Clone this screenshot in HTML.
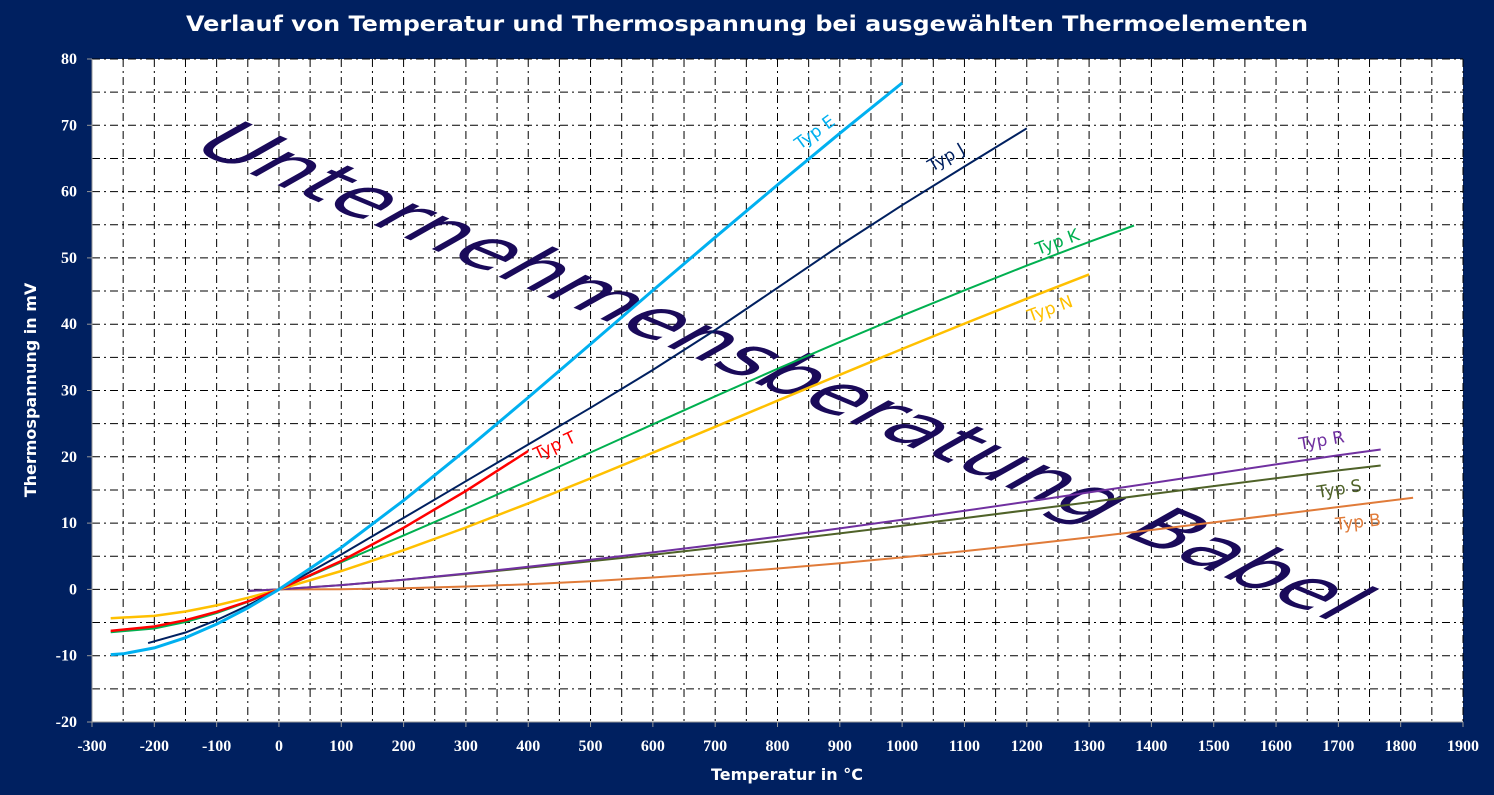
<!DOCTYPE html><html><head><style>body{margin:0;background:#002060}</style></head><body>
<svg id="s" width="1494" height="790" xmlns="http://www.w3.org/2000/svg" font-family="Liberation Sans, sans-serif">
<rect width="1494" height="790" fill="#002060"/>
<text x="747" y="31" fill="#fff" font-size="21" font-weight="bold" text-anchor="middle" font-family="DejaVu Sans, sans-serif" textLength="1122" lengthAdjust="spacingAndGlyphs">Verlauf von Temperatur und Thermospannung bei ausgewählten Thermoelementen</text>
<rect x="92" y="59" width="1371" height="663" fill="#fff"/>
<g id="grid"></g>
<text x="787" y="780" fill="#fff" font-size="16" font-weight="bold" text-anchor="middle" font-family="DejaVu Sans, sans-serif">Temperatur in °C</text>
<text transform="translate(36,390) rotate(-90)" fill="#fff" font-size="16" font-weight="bold" text-anchor="middle" font-family="DejaVu Sans, sans-serif">Thermospannung in mV</text>
<g id="ticks" fill="#fff" font-size="16" font-weight="bold" font-family="Liberation Serif, serif"></g>
<text transform="translate(760,385) rotate(22.5) skewX(-38)" fill="#1a0a5a" font-family="DejaVu Sans, sans-serif" font-size="64" text-anchor="middle" textLength="1240" lengthAdjust="spacingAndGlyphs">Unternehmensberatung Babel</text>
<g id="curves" fill="none"></g>
<g id="labels" font-size="17" font-family="DejaVu Sans, sans-serif"></g>
</svg>
<script>
const X=t=>92+(t+300)*1371/2200, Y=v=>59+(80-v)*6.63;
const NS="http://www.w3.org/2000/svg";
function el(p,n,a,txt){const e=document.createElementNS(NS,n);for(const k in a)e.setAttribute(k,a[k]);if(txt!==undefined)e.textContent=txt;document.getElementById(p).appendChild(e);}
for(let t=-250;t<=1900;t+=50)el("grid","line",{x1:X(t),x2:X(t),y1:59,y2:722,stroke:"#000","stroke-width":1,"stroke-dasharray":"8,4,2,4"});
for(let v=-15;v<=80;v+=5)el("grid","line",{x1:92,x2:1463,y1:Y(v),y2:Y(v),stroke:"#000","stroke-width":1,"stroke-dasharray":"8,4,2,4"});
el("grid","line",{x1:92,x2:1463,y1:722,y2:722,stroke:"#999","stroke-width":1});
el("grid","line",{x1:92,x2:92,y1:59,y2:722,stroke:"#999","stroke-width":1});
for(let t=-300;t<=1900;t+=100){el("grid","line",{x1:X(t),x2:X(t),y1:722,y2:727,stroke:"#999"});el("ticks","text",{x:X(t),y:751,"text-anchor":"middle"},t);}
for(let v=-20;v<=80;v+=10){el("grid","line",{x1:87,x2:92,y1:Y(v),y2:Y(v),stroke:"#999"});el("ticks","text",{x:77,y:Y(v)+5,"text-anchor":"end"},v);}
const D={
E:["#00B0F0",3,[[-270,-9.835],[-250,-9.719],[-200,-8.825],[-150,-7.279],[-100,-5.237],[-50,-2.787],[0,0],[100,6.319],[200,13.421],[300,21.036],[400,28.946],[500,37.005],[600,45.093],[700,53.112],[800,61.017],[900,68.787],[1000,76.373]]],
J:["#002060",2,[[-210,-8.095],[-150,-6.5],[-100,-4.633],[-50,-2.431],[0,0],[100,5.269],[200,10.779],[300,16.327],[400,21.848],[500,27.393],[600,33.102],[700,39.132],[800,45.494],[900,51.877],[1000,57.953],[1100,63.792],[1200,69.553]]],
K:["#00B050",2,[[-270,-6.458],[-200,-5.891],[-150,-4.913],[-100,-3.554],[-50,-1.889],[0,0],[100,4.096],[200,8.138],[300,12.209],[400,16.397],[500,20.644],[600,24.905],[700,29.129],[800,33.275],[900,37.326],[1000,41.276],[1100,45.119],[1200,48.838],[1300,52.41],[1372,54.886]]],
N:["#FFC000",2.5,[[-270,-4.345],[-200,-3.99],[-150,-3.336],[-100,-2.407],[-50,-1.269],[0,0],[100,2.774],[200,5.913],[300,9.341],[400,12.974],[500,16.748],[600,20.613],[700,24.527],[800,28.455],[900,32.371],[1000,36.256],[1100,40.087],[1200,43.846],[1300,47.513]]],
T:["#FF0000",2.5,[[-270,-6.258],[-200,-5.603],[-150,-4.648],[-100,-3.379],[-50,-1.819],[0,0],[100,4.279],[200,9.288],[300,14.862],[400,20.872]]],
R:["#7030A0",2,[[-50,-0.226],[0,0],[100,0.647],[200,1.469],[300,2.401],[400,3.408],[500,4.471],[600,5.583],[700,6.743],[800,7.95],[900,9.205],[1000,10.506],[1100,11.85],[1200,13.228],[1300,14.629],[1400,16.04],[1500,17.451],[1600,18.849],[1700,20.222],[1768,21.101]]],
S:["#4F6228",2,[[-50,-0.236],[0,0],[100,0.646],[200,1.441],[300,2.323],[400,3.259],[500,4.233],[600,5.239],[700,6.275],[800,7.345],[900,8.449],[1000,9.587],[1100,10.757],[1200,11.951],[1300,13.159],[1400,14.373],[1500,15.582],[1600,16.777],[1700,17.947],[1768,18.693]]],
B:["#E07B39",2,[[0,0],[100,0.033],[200,0.178],[300,0.431],[400,0.787],[500,1.242],[600,1.792],[700,2.431],[800,3.154],[900,3.957],[1000,4.834],[1100,5.78],[1200,6.786],[1300,7.848],[1400,8.956],[1500,10.099],[1600,11.263],[1700,12.433],[1820,13.82]]]};
for(const k of ["B","S","R","N","K","J","T","E"]){const d=D[k];el("curves","polyline",{stroke:d[0],"stroke-width":d[1],points:d[2].map(p=>X(p[0]).toFixed(1)+","+Y(p[1]).toFixed(1)).join(" ")});}
const L=[["E",800,150,-36],["J",932,172,-30],["K",1038,255,-20],["N",1030,322,-20],["T",537,460,-25],["R",1300,450,-10],["S",1318,498,-9],["B",1336,530,-6]];
for(const l of L)el("labels","text",{x:l[1],y:l[2],fill:D[l[0]][0],transform:`rotate(${l[3]} ${l[1]} ${l[2]})`},"Typ "+l[0]);
</script>
</body></html>
